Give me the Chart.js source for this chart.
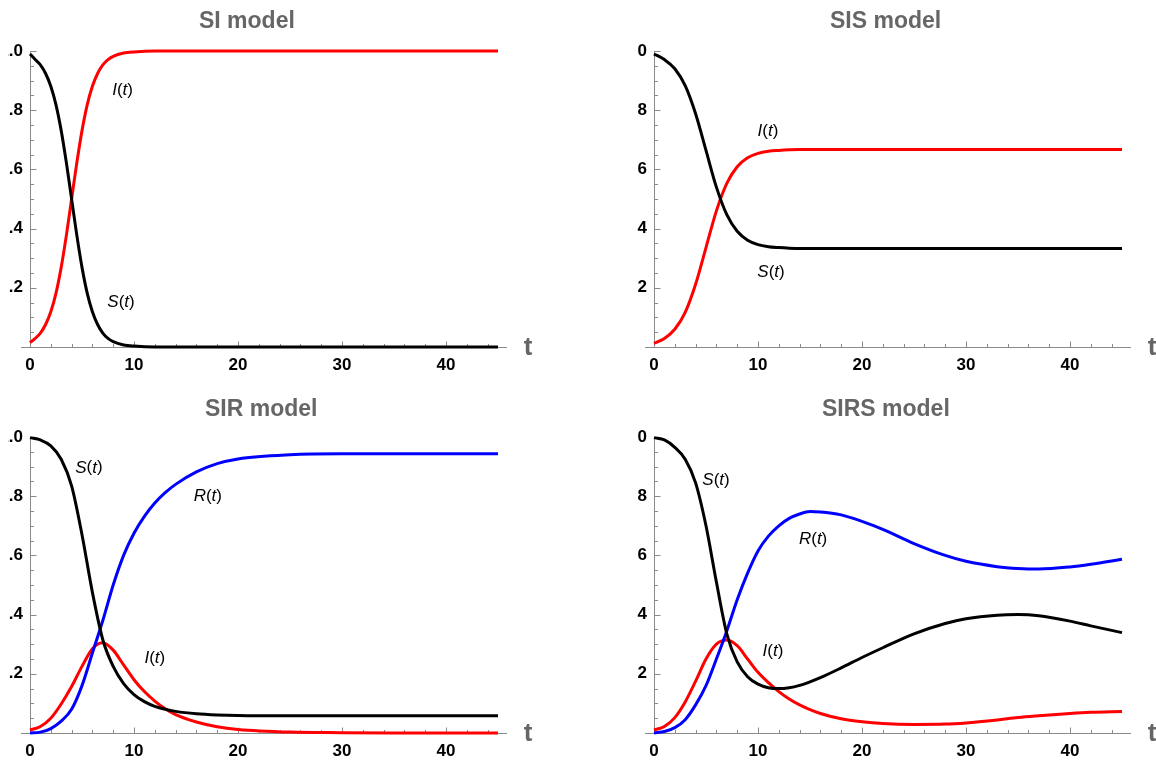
<!DOCTYPE html>
<html>
<head>
<meta charset="utf-8">
<script src="https://cdn.jsdelivr.net/npm/chart.js@4.4.1/dist/chart.umd.min.js"></script>
<style>
  html, body { margin: 0; padding: 0; background: #fff; }
  body { width: 1156px; height: 760px; position: relative; overflow: hidden; }
  .panel { position: absolute; overflow: hidden; height: 374px; }
  .panel canvas { position: absolute; top: 0; }
</style>
</head>
<body>
<div class="panel" style="left:8px;top:0;width:560px"><canvas id="si" width="580" height="385" style="left:-28px"></canvas></div>
<div class="panel" style="left:637px;top:0;width:519px"><canvas id="sis" width="580" height="385" style="left:-33px"></canvas></div>
<div class="panel" style="left:8px;top:386px;width:560px"><canvas id="sir" width="580" height="385" style="left:-28px"></canvas></div>
<div class="panel" style="left:637px;top:386px;width:519px"><canvas id="sirs" width="580" height="385" style="left:-33px"></canvas></div>

<script>
// values
const tSI = [0, 0.5, 1, 1.5, 2, 2.5, 3, 3.5, 4, 4.5, 5, 5.5, 6, 6.5, 7, 7.5, 8, 9, 10, 12, 15, 20, 30, 45];
const siS = [0.99, 0.971, 0.953, 0.924, 0.881, 0.818, 0.731, 0.622, 0.5, 0.378, 0.269, 0.182, 0.119, 0.076, 0.047, 0.029, 0.018, 0.007, 0.003, 0, 0, 0, 0, 0];
const siI = [0.015, 0.029, 0.047, 0.076, 0.119, 0.182, 0.269, 0.378, 0.5, 0.622, 0.731, 0.818, 0.881, 0.924, 0.953, 0.971, 0.982, 0.993, 0.997, 1, 1, 1, 1, 1];

const tSIS = [0, 1, 2, 3, 4, 5, 6, 7, 8, 9, 10, 11, 12, 13, 14, 20, 30, 45];
const sisS = [0.99, 0.971, 0.94, 0.883, 0.788, 0.664, 0.54, 0.447, 0.391, 0.361, 0.346, 0.339, 0.336, 0.334, 0.333, 0.333, 0.333, 0.333];
const sisI = [0.012, 0.029, 0.06, 0.117, 0.212, 0.336, 0.46, 0.553, 0.609, 0.639, 0.654, 0.661, 0.664, 0.666, 0.667, 0.667, 0.667, 0.667];

const tSIR = [0, 1, 2, 3, 4, 5, 6, 7, 8, 9, 10, 11, 12, 13, 14, 16, 18, 20, 25, 30, 35, 45];
const sirS = [0.998, 0.99, 0.97, 0.925, 0.835, 0.67, 0.475, 0.315, 0.225, 0.167, 0.13, 0.106, 0.09, 0.08, 0.073, 0.065, 0.061, 0.059, 0.058, 0.058, 0.058, 0.058];
const sirI = [0.01, 0.022, 0.05, 0.098, 0.157, 0.225, 0.285, 0.305, 0.28, 0.23, 0.18, 0.14, 0.108, 0.082, 0.062, 0.037, 0.021, 0.012, 0.003, 0.001, 0, 0];
const sirR = [0, 0.003, 0.015, 0.04, 0.08, 0.16, 0.27, 0.38, 0.5, 0.6, 0.675, 0.732, 0.777, 0.812, 0.84, 0.882, 0.91, 0.926, 0.94, 0.943, 0.943, 0.943];

const tSIRS = [0, 1, 2, 3, 4, 5, 6, 7, 8, 9, 10, 11, 12, 13, 14, 15, 16, 18, 20, 22, 25, 28, 30, 33, 35, 37, 40, 42, 45];
const sirsS = [0.998, 0.99, 0.965, 0.925, 0.845, 0.7, 0.51, 0.335, 0.24, 0.19, 0.165, 0.153, 0.15, 0.153, 0.161, 0.173, 0.187, 0.22, 0.255, 0.288, 0.335, 0.37, 0.386, 0.398, 0.4, 0.396, 0.378, 0.362, 0.339];
const sirsI = [0.01, 0.022, 0.052, 0.105, 0.175, 0.25, 0.3, 0.314, 0.295, 0.25, 0.205, 0.17, 0.14, 0.115, 0.095, 0.079, 0.066, 0.048, 0.038, 0.032, 0.029, 0.03, 0.034, 0.044, 0.052, 0.058, 0.066, 0.07, 0.073];
const sirsR = [0, 0.005, 0.018, 0.045, 0.095, 0.16, 0.25, 0.345, 0.45, 0.54, 0.615, 0.665, 0.7, 0.725, 0.74, 0.748, 0.747, 0.737, 0.715, 0.688, 0.64, 0.6, 0.58, 0.562, 0.556, 0.554, 0.561, 0.57, 0.587];

const xTicks = [0, 10, 20, 30, 40];
const yTicks = [0.2, 0.4, 0.6, 0.8, 1.0];

const FONT = 'Liberation Sans, Arial, sans-serif';
const RED = '#ff0000', BLACK = '#000000', BLUE = '#0000ff';

// italic letter + upright parens, like "S(t)"
function drawFnLabel(ctx, cx, cy, letter) {
  const it = 'italic 17px ' + FONT, up = '17px ' + FONT;
  const parts = [[letter, it], ['(', up], ['t', it], [')', up]];
  let w = 0;
  parts.forEach(p => { ctx.font = p[1]; w += ctx.measureText(p[0]).width; });
  let x = cx - w / 2;
  ctx.fillStyle = '#000';
  ctx.textBaseline = 'middle';
  ctx.textAlign = 'left';
  parts.forEach(p => { ctx.font = p[1]; ctx.fillText(p[0], x, cy); x += ctx.measureText(p[0]).width; });
}

function mmaPlugin(cfg) {
  return {
    id: 'mma',
    beforeDatasetsDraw(chart) {
      const { ctx, chartArea: a, scales: { x, y } } = chart;
      const x0 = Math.round(x.getPixelForValue(0)) + 0.5;
      const y0 = Math.round(y.getPixelForValue(0)) + 0.5;
      ctx.save();
      ctx.strokeStyle = '#8a8a8a';
      ctx.lineWidth = 1;
      ctx.beginPath();
      ctx.moveTo(a.left - 9, y0); ctx.lineTo(a.right + 9, y0);
      ctx.moveTo(x0, y0); ctx.lineTo(x0, Math.round(y.getPixelForValue(1)));
      for (let t = 0; t <= 44; t += 2) {
        const px = Math.round(x.getPixelForValue(t)) + 0.5;
        ctx.moveTo(px, y0); ctx.lineTo(px, y0 - (t % 10 === 0 ? 6 : 3.5));
      }
      for (let k = 1; k <= 20; k++) {
        const py = Math.round(y.getPixelForValue(k * 0.05)) + 0.5;
        ctx.moveTo(x0, py); ctx.lineTo(x0 + (k % 4 === 0 ? 6 : 3.5), py);
      }
      ctx.stroke();
      ctx.restore();
    },
    afterDraw(chart) {
      const { ctx, chartArea: a, scales: { x, y } } = chart;
      ctx.save();
      ctx.fillStyle = '#666';
      ctx.font = 'bold 23px ' + FONT;
      ctx.textAlign = 'left';
      ctx.textBaseline = 'middle';
      ctx.fillText(cfg.title, a.left + cfg.titleDx, cfg.titleY);
      ctx.font = 'bold 26px ' + FONT;
      ctx.textAlign = 'center';
      ctx.fillText('t', a.right + 30, a.bottom + 1);
      cfg.labels.forEach(l => drawFnLabel(ctx, x.getPixelForValue(l[1]), y.getPixelForValue(l[2]), l[0]));
      ctx.restore();
    }
  };
}

function makeChart(id, cfg) {
  const datasets = cfg.series.map(s => ({
    data: s.t.map((t, i) => ({ x: t, y: s.v[i] })),
    borderColor: s.color,
    borderWidth: 3,
    pointRadius: 0,
    fill: false,
    clip: false,
    cubicInterpolationMode: 'monotone'
  }));
  return new Chart(document.getElementById(id), {
    type: 'line',
    data: { datasets },
    options: {
      responsive: false,
      animation: false,
      events: [],
      layout: { padding: { left: 0, top: 51, right: 62, bottom: 8 } },
      plugins: { legend: { display: false }, tooltip: { enabled: false } },
      scales: {
        x: {
          type: 'linear', min: 0, max: 45,
          afterFit: s => { s.height = 30; },
          afterBuildTicks: s => { s.ticks = xTicks.map(v => ({ value: v })); },
          grid: { display: false, drawTicks: false }, border: { display: false },
          ticks: { font: { family: FONT, size: 17, weight: 'bold' }, color: '#000', padding: 8, maxRotation: 0, autoSkip: false }
        },
        y: {
          type: 'linear', min: 0, max: 1,
          afterFit: s => { s.width = 50; },
          afterBuildTicks: s => { s.ticks = yTicks.map(v => ({ value: v })); },
          grid: { display: false, drawTicks: false }, border: { display: false },
          ticks: { font: { family: FONT, size: 17, weight: 'bold' }, color: '#000', padding: 7, callback: v => v.toFixed(1) }
        }
      }
    },
    plugins: [mmaPlugin(cfg)]
  });
}

makeChart('si', {
  title: 'SI model', titleDx: 169, titleY: 22,
  series: [{ t: tSI, v: siS, color: BLACK }, { t: tSI, v: siI, color: RED }],
  labels: [['I', 8.9, 0.868], ['S', 8.75, 0.152]]
});
makeChart('sis', {
  title: 'SIS model', titleDx: 176, titleY: 22,
  series: [{ t: tSIS, v: sisS, color: BLACK }, { t: tSIS, v: sisI, color: RED }],
  labels: [['I', 10.96, 0.73], ['S', 11.25, 0.253]]
});
makeChart('sir', {
  title: 'SIR model', titleDx: 175, titleY: 24,
  series: [{ t: tSIR, v: sirS, color: BLACK }, { t: tSIR, v: sirR, color: BLUE }, { t: tSIR, v: sirI, color: RED }],
  labels: [['S', 5.67, 0.896], ['R', 17.1, 0.8], ['I', 12.0, 0.253]]
});
makeChart('sirs', {
  title: 'SIRS model', titleDx: 168, titleY: 24,
  series: [{ t: tSIRS, v: sirsS, color: BLACK }, { t: tSIRS, v: sirsR, color: BLUE }, { t: tSIRS, v: sirsI, color: RED }],
  labels: [['S', 5.96, 0.855], ['R', 15.3, 0.656], ['I', 11.44, 0.277]]
});
</script>
</body>
</html>
